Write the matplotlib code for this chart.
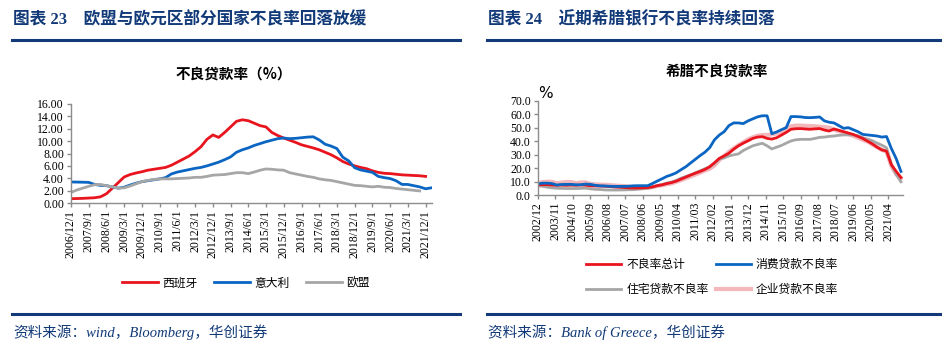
import numpy as np
import pandas as pd
import matplotlib
matplotlib.use("Agg")
import matplotlib.pyplot as plt

plt.rcParams['font.family'] = ['Liberation Serif', 'Noto Sans CJK SC', 'DejaVu Sans']
plt.rcParams['axes.unicode_minus'] = False

# ---------- left chart data (quarterly, from 2006/12) ----------
spain = [0.70, 0.72, 0.75, 0.80, 0.85, 1.00, 1.50, 2.40, 3.30, 4.20,
         4.60, 4.85, 5.05, 5.30, 5.45, 5.60, 5.75, 6.10, 6.60, 7.10,
         7.60, 8.30, 9.10, 10.30, 11.00, 10.60, 11.40, 12.30, 13.20, 13.45,
         13.30, 12.90, 12.50, 12.30, 11.40, 10.90, 10.50, 10.15, 9.80, 9.40,
         9.15, 8.90, 8.60, 8.20, 7.80, 7.30, 6.70, 6.30, 6.00, 5.75,
         5.55, 5.20, 4.95, 4.80, 4.75, 4.65, 4.55, 4.50, 4.45, 4.40,
         4.30]
italy = [3.40, 3.38, 3.36, 3.33, 3.00, 2.85, 2.80, 2.60, 2.40, 2.55,
         2.90, 3.20, 3.45, 3.60, 3.75, 3.90, 4.10, 4.70, 5.00, 5.20,
         5.40, 5.60, 5.75, 6.00, 6.30, 6.60, 7.00, 7.45, 8.20, 8.60,
         8.90, 9.30, 9.60, 9.90, 10.15, 10.40, 10.50, 10.40, 10.45, 10.55,
         10.65, 10.70, 10.20, 9.50, 9.20, 8.80, 7.40, 6.80, 5.70, 5.35,
         5.15, 4.95, 4.30, 4.10, 3.95, 3.60, 3.00, 3.00, 2.80, 2.60,
         2.30, 2.45]
eu = [1.70, 2.10, 2.40, 2.70, 2.95, 3.00, 2.80, 2.60, 2.40, 2.45,
      2.75, 3.10, 3.45, 3.65, 3.80, 3.90, 3.90, 3.90, 3.95, 4.00,
      4.05, 4.15, 4.15, 4.30, 4.50, 4.55, 4.60, 4.75, 4.90, 4.90,
      4.75, 5.00, 5.30, 5.50, 5.45, 5.35, 5.30, 4.90, 4.70, 4.50,
      4.30, 4.15, 3.90, 3.75, 3.65, 3.45, 3.25, 3.05, 2.85, 2.80,
      2.70, 2.60, 2.70, 2.55, 2.50, 2.35, 2.25, 2.15, 2.05, 1.95]
left_names = ['西班牙', '意大利', '欧盟']

# ---------- right chart data (quarterly, from 2002/12) ----------
total = [7.5, 7.6, 7.7, 7.3, 7.2, 7.3, 7.2, 7.3, 7.2, 7.4,
         7.3, 6.8, 6.7, 6.6, 6.5, 6.3, 6.0, 5.8, 5.6, 5.3,
         5.2, 5.2, 5.3, 5.5, 6.0, 6.9, 7.5, 8.5, 9.2, 10.3,
         11.8, 13.3, 14.8, 16.2, 17.5, 19.0, 21.0, 24.0, 27.2, 29.0,
         31.0, 34.0, 36.5, 38.5, 40.2, 42.0, 43.0, 43.3, 42.0, 41.5,
         42.5, 44.5, 46.5, 48.8, 49.2, 49.3, 49.0, 48.8, 49.1, 49.3,
         48.2, 47.5, 49.0, 48.0, 47.0, 46.0, 45.0, 43.5, 42.0, 40.0,
         38.0, 35.5, 33.5, 32.5, 22.5, 17.5, 13.0]
consumer = [8.2, 8.8, 8.8, 8.5, 7.4, 7.8, 7.9, 7.9, 7.6, 7.6,
            8.1, 7.9, 7.2, 6.8, 6.7, 6.5, 6.4, 6.4, 6.4, 6.5,
            6.8, 6.9, 6.9, 6.9, 8.5, 10.3, 12.0, 13.8, 15.0, 16.5,
            18.8, 21.0, 23.8, 26.5, 29.3, 31.8, 35.2, 41.0, 44.5, 47.0,
            51.5, 53.5, 53.5, 53.0, 55.0, 56.5, 58.0, 58.8, 58.8, 45.5,
            46.8, 48.5, 50.0, 58.2, 58.2, 58.0, 57.5, 57.4, 57.6, 57.9,
            55.0, 54.0, 53.5, 51.5, 49.5, 50.0, 48.5, 47.0, 45.0, 44.6,
            44.2, 43.8, 43.0, 43.4, 34.5, 27.0, 17.5]
housing = [6.9, 6.5, 5.8, 5.3, 5.0, 4.9, 4.8, 4.8, 4.8, 4.9,
           5.1, 4.6, 4.2, 4.1, 3.8, 3.7, 3.7, 3.7, 3.8, 3.9,
           4.0, 4.3, 4.6, 5.0, 5.8, 6.9, 7.8, 8.8, 9.6, 10.8,
           12.5, 13.8, 15.0, 16.5, 18.0, 19.5, 21.0, 23.5, 26.7, 27.5,
           29.0, 29.8, 30.5, 33.0, 34.8, 36.5, 37.5, 38.4, 36.5, 34.2,
           35.5, 36.8, 38.5, 40.1, 41.0, 41.3, 41.3, 41.3, 42.0, 42.8,
           43.0, 43.5, 43.8, 44.3, 44.6, 44.6, 44.6, 44.0, 42.6, 41.5,
           40.3, 38.5, 37.0, 35.0, 22.8, 15.2, 9.8]
business = [8.7, 9.6, 9.9, 9.8, 8.7, 9.2, 9.6, 9.6, 8.8, 9.3,
            9.4, 8.3, 7.9, 7.7, 7.6, 7.4, 7.1, 6.8, 6.6, 6.3,
            6.0, 5.8, 5.6, 5.4, 5.8, 6.7, 7.2, 8.0, 8.6, 9.8,
            11.0, 12.5, 13.8, 15.2, 16.6, 18.2, 19.5, 22.0, 26.0, 29.0,
            32.0, 34.5, 37.0, 39.0, 41.3, 42.8, 44.0, 44.5, 44.6, 45.0,
            45.6, 47.0, 49.8, 51.0, 51.5, 51.5, 51.3, 51.2, 51.0, 50.7,
            50.4, 50.0, 48.5, 47.5, 46.0, 45.3, 43.9, 42.6, 41.0, 39.8,
            37.5, 35.5, 33.5, 32.3, 21.5, 15.5, 12.5]
right_names = ['不良率总计', '消费贷款不良率', '住宅贷款不良率', '企业贷款不良率']

RED = '#e8141e'
BLUE = '#0a66c2'
GRAY = '#a6a6a6'
PINK = '#f2b8bc'
NAVY = '#123a78'
SPINE = '#8c8c8c'

fig = plt.figure(figsize=(9.5, 3.5), dpi=100)

# headers
fig.text(13 / 950, 1 - 20 / 350, '图表 23    欧盟与欧元区部分国家不良率回落放缓',
         fontsize=12, fontweight='bold', color=NAVY, va='center', ha='left')
fig.text(488 / 950, 1 - 20 / 350, '图表 24    近期希腊银行不良率持续回落',
         fontsize=12, fontweight='bold', color=NAVY, va='center', ha='left')
for x0, x1 in [(12, 460), (487, 940)]:
    fig.add_artist(plt.Line2D([x0 / 950, x1 / 950], [1 - 40 / 350] * 2, color=NAVY, lw=2.2))
    fig.add_artist(plt.Line2D([x0 / 950, x1 / 950], [1 - 314 / 350] * 2, color=NAVY, lw=2.2))

fig.text(13 / 950, 1 - 332 / 350, '资料来源：wind，Bloomberg，华创证券',
         fontsize=10.5, style='italic', color=NAVY, va='center', ha='left')
fig.text(488 / 950, 1 - 332 / 350, '资料来源：Bank of Greece，华创证券',
         fontsize=10.5, style='italic', color=NAVY, va='center', ha='left')


def style_axes(ax):
    for s in ['top', 'right']:
        ax.spines[s].set_visible(False)
    for s in ['left', 'bottom']:
        ax.spines[s].set_color(SPINE)
        ax.spines[s].set_linewidth(1.0)
    ax.tick_params(axis='both', colors=SPINE, labelcolor='black', labelsize=8.5,
                   length=3, width=1.0, pad=2)


# ---------- left chart ----------
ax1 = fig.add_axes([71 / 950, 1 - 203 / 350, 361 / 950, 99 / 350])
d_sp = pd.date_range('2006-12-01', periods=len(spain), freq='3MS')
d_it = pd.date_range('2006-12-01', periods=len(italy), freq='3MS')
d_eu = pd.date_range('2006-12-01', periods=len(eu), freq='3MS')
ax1.plot(d_sp, spain, color=RED, lw=2.0, label=left_names[0])
ax1.plot(d_it, italy, color=BLUE, lw=2.0, label=left_names[1])
ax1.plot(d_eu, eu, color=GRAY, lw=2.0, label=left_names[2])
ax1.set_ylim(0, 16)
ax1.set_yticks(np.arange(0, 17, 2))
ax1.set_yticklabels([f'{v:.2f}' for v in np.arange(0, 17, 2)])
lt = pd.date_range('2006-12-01', '2021-12-01', freq='9MS')
ax1.set_xticks(lt)
ax1.set_xticklabels([f'{d.year}/{d.month}/1' for d in lt], rotation=90)
ax1.set_xlim(pd.Timestamp('2006-12-01'), pd.Timestamp('2022-03-10'))
style_axes(ax1)
ax1.set_title('不良贷款率（%）', fontsize=10.5, fontweight='bold', pad=18,
              family=['Noto Sans CJK SC', 'DejaVu Sans'])
ax1.title.set_position((0.45, 1.0))
fig.legend(handles=ax1.get_lines(), loc='center', bbox_to_anchor=(246 / 950, 1 - 283 / 350),
           ncol=3, frameon=False, handlelength=3.0, columnspacing=1.4,
           handletextpad=0.4, prop={'family': ['Noto Sans CJK SC'], 'size': 8.5})

# ---------- right chart ----------
ax2 = fig.add_axes([537.7 / 950, 1 - 195 / 350, 365.6 / 950, 94.3 / 350])
dr = pd.date_range('2002-12-01', periods=len(total), freq='3MS')
l_bus, = ax2.plot(dr, business, color=PINK, lw=3.0, label=right_names[3])
l_hou, = ax2.plot(dr, housing, color=GRAY, lw=2.0, label=right_names[2])
l_tot, = ax2.plot(dr, total, color=RED, lw=2.0, label=right_names[0])
l_con, = ax2.plot(dr, consumer, color=BLUE, lw=2.0, label=right_names[1])
ax2.set_ylim(0, 70)
ax2.set_yticks(np.arange(0, 71, 10))
ax2.set_yticklabels([f'{v:.1f}' for v in np.arange(0, 71, 10)])
rt = pd.date_range('2002-12-01', '2021-04-01', freq='11MS')
ax2.set_xticks(rt)
ax2.set_xticklabels([f'{d.year}/{d.month:02d}' for d in rt], rotation=90)
ax2.set_xlim(pd.Timestamp('2002-12-01'), pd.Timestamp('2022-01-15'))
style_axes(ax2)
ax2.set_title('希腊不良贷款率', fontsize=10.5, fontweight='bold', pad=18,
              family=['Noto Sans CJK SC', 'DejaVu Sans'])
ax2.title.set_position((0.49, 1.0))
ax2.text(0.0, 1.08, '%', transform=ax2.transAxes, fontsize=11,
         family=['DejaVu Sans'], ha='left', va='center')
# ncol=2 fills column by column: row 1 = 总计/消费, row 2 = 住宅/企业
fig.legend(handles=[l_tot, l_hou, l_con, l_bus], loc='center',
           bbox_to_anchor=(712 / 950, 1 - 277 / 350), ncol=2, frameon=False,
           handlelength=3.0, columnspacing=0.6, handletextpad=0.4, labelspacing=1.0,
           prop={'family': ['Noto Sans CJK SC'], 'size': 8.5})

fig.savefig('out.png', dpi=100, facecolor='white')
